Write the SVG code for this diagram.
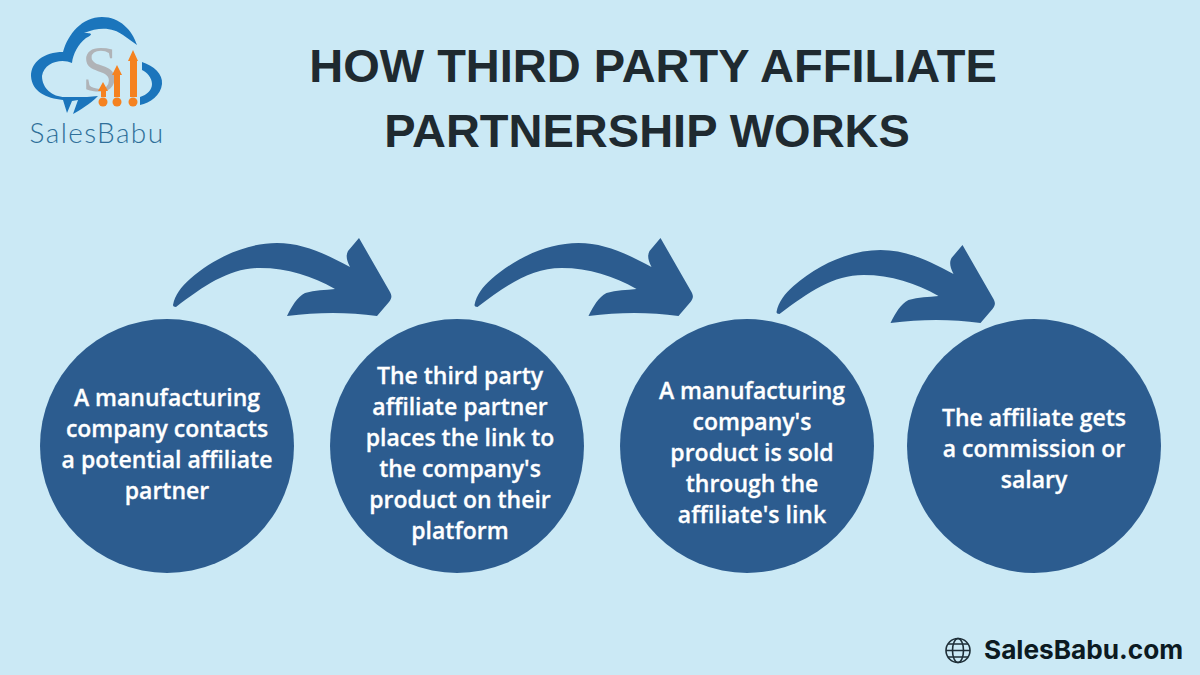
<svg xmlns="http://www.w3.org/2000/svg" width="1200" height="675" viewBox="0 0 1200 675">
<style>
.c{fill:#2c5c8f}
.t{font:700 47px "Liberation Sans",Arial,sans-serif;fill:#1f2a30;text-anchor:middle}
.b{font:600 23px "Open Sans",sans-serif;fill:#fff;stroke:#fff;stroke-width:.3;text-anchor:middle}
.o{fill:#f58220}
</style>
<defs>
<path id="arrow" d="M173 305C175 295 181 287 190 279C214 258 246 243 277 243C303 243 326 254 350 267C346 259 346 255 348 251L359 238L390 292C392 296 392 298 389 302L377 316C348 312 318 312 287 316C292 306 297 297 305 293C315 290 325 290 335 289C312 276 288 268 260 268C230 268 205 285 176 307C174 307 173 306 173 305Z"/>
</defs>
<rect width="1200" height="675" fill="#cbe9f5"/>
<g id="logo">
<path fill="#1b75bc" d="M67 113L63 100C46 98 32 92 31 76C31 62 44 52 63 52C68 34 82 17 102 17C120 17 132 30 137 45L123 35C114 28 100 26 84 33C94 33 92 35 86 38C78 44 73 54 72 63C62 58 44 62 42 76C42 88 52 97 65 97L87 97L98 96C90 104 80 110 73 114L78 100L72 101Z"/>
<path fill="#1b75bc" d="M142 62C154 66 163 74 162 84C161 95 150 103 140 105L140 97C147 95 152 90 152 84C152 78 147 72 142 70Z"/>
<text x="100" y="91" font-family="Liberation Serif,serif" font-size="66" fill="#b0b3b7" text-anchor="middle">S</text>
<g class="o">
<path d="M101 97L101 91L98 91L103 82L108 91L106 91L106 97Z"/>
<path d="M114 97L114 75L112 75L117 65L122 75L120 75L120 97Z"/>
<path d="M130 97L130 61L128 61L133 50L138 61L137 61L137 97Z"/>
<circle cx="103" cy="102" r="4.500"/><circle cx="117" cy="102" r="4.500"/><circle cx="133" cy="102" r="4.500"/>
</g>
<text x="97" y="143" font-family="Lato,sans-serif" font-weight="300" font-size="28" letter-spacing="1.4" fill="#2f6f99" text-anchor="middle">SalesBabu</text>
</g>
<g id="title">
<text class="t" x="653" y="82">HOW THIRD PARTY AFFILIATE</text>
<text class="t" x="647" y="147">PARTNERSHIP WORKS</text>
</g>
<g id="connectors">
<use href="#arrow" class="c"/>
<use href="#arrow" class="c" x="301.500"/>
<use href="#arrow" class="c" x="603.500" y="7"/>
</g>
<g id="node1">
<circle class="c" cx="167" cy="446" r="127"/>
<text class="b" x="167" y="406">A manufacturing</text>
<text class="b" x="167" y="437">company contacts</text>
<text class="b" x="167" y="468">a potential affiliate</text>
<text class="b" x="167" y="499">partner</text>
</g>
<g id="node2">
<circle class="c" cx="457" cy="446" r="127"/>
<text class="b" x="460" y="384">The third party</text>
<text class="b" x="460" y="415">affiliate partner</text>
<text class="b" x="460" y="446">places the link to</text>
<text class="b" x="460" y="477">the company's</text>
<text class="b" x="460" y="508">product on their</text>
<text class="b" x="460" y="539">platform</text>
</g>
<g id="node3">
<circle class="c" cx="747" cy="446" r="127"/>
<text class="b" x="752" y="399">A manufacturing</text>
<text class="b" x="752" y="430">company's</text>
<text class="b" x="752" y="461">product is sold</text>
<text class="b" x="752" y="492">through the</text>
<text class="b" x="752" y="523">affiliate's link</text>
</g>
<g id="node4">
<circle class="c" cx="1034" cy="446" r="127"/>
<text class="b" x="1034" y="426">The affiliate gets</text>
<text class="b" x="1034" y="457">a commission or</text>
<text class="b" x="1034" y="488">salary</text>
</g>
<g id="footer">
<g fill="none" stroke="#1f2f38" stroke-width="1.6">
<circle cx="958" cy="650.500" r="12"/>
<ellipse cx="958" cy="650.500" rx="5.500" ry="12"/>
<path d="M946 650.500H970M948 644H968M948 657H968"/>
</g>
<text x="984" y="659" font-family="Inter,sans-serif" font-weight="700" font-size="26.200" fill="#0c1a22">SalesBabu.com</text>
</g>
</svg>
